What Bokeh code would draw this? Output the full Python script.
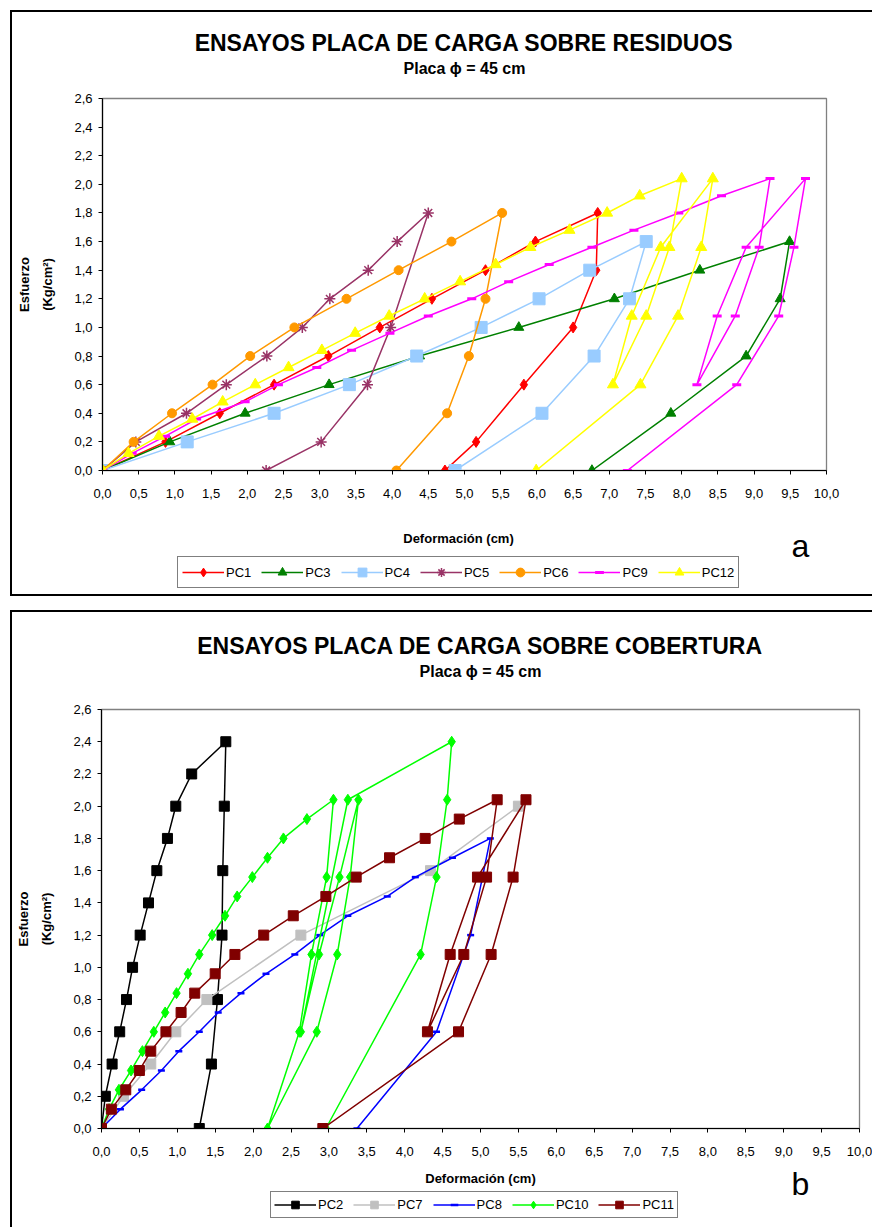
from bokeh.plotting import figure
from bokeh.models import Range1d, FixedTicker, Legend, LegendItem, LinearAxis, Label
from bokeh.layouts import column
from bokeh.embed import file_html
from bokeh.resources import INLINE

FONT = "Liberation Sans"

# ---------------- data ----------------
x_ticks = [0.0, 0.5, 1.0, 1.5, 2.0, 2.5, 3.0, 3.5, 4.0, 4.5, 5.0,
           5.5, 6.0, 6.5, 7.0, 7.5, 8.0, 8.5, 9.0, 9.5, 10.0]
x_tick_labels = ["0,0", "0,5", "1,0", "1,5", "2,0", "2,5", "3,0", "3,5", "4,0", "4,5", "5,0",
                 "5,5", "6,0", "6,5", "7,0", "7,5", "8,0", "8,5", "9,0", "9,5", "10,0"]
y_ticks = [0.0, 0.2, 0.4, 0.6, 0.8, 1.0, 1.2, 1.4, 1.6, 1.8, 2.0, 2.2, 2.4, 2.6]
y_tick_labels = ["0,0", "0,2", "0,4", "0,6", "0,8", "1,0", "1,2", "1,4", "1,6", "1,8",
                 "2,0", "2,2", "2,4", "2,6"]

# Chart a: residuos
pc1_x = [0, 0.87, 1.62, 2.37, 3.12, 3.83, 4.55, 5.29, 5.98, 6.84, 6.82, 6.50, 5.82, 5.16, 4.73]
pc1_y = [0, 0.2, 0.4, 0.6, 0.8, 1.0, 1.2, 1.4, 1.6, 1.8, 1.4, 1.0, 0.6, 0.2, 0.0]

pc3_x = [0, 0.93, 1.97, 3.13, 4.38, 5.75, 7.07, 8.25, 9.49, 9.36, 8.89, 7.85, 6.76]
pc3_y = [0, 0.2, 0.4, 0.6, 0.8, 1.0, 1.2, 1.4, 1.6, 1.2, 0.8, 0.4, 0.0]

pc4_x = [0, 1.17, 2.37, 3.41, 4.34, 5.23, 6.03, 6.73, 7.51, 7.28, 6.79, 6.07, 4.87]
pc4_y = [0, 0.2, 0.4, 0.6, 0.8, 1.0, 1.2, 1.4, 1.6, 1.2, 0.8, 0.4, 0.0]

pc5_x = [0, 0.46, 1.16, 1.71, 2.27, 2.76, 3.14, 3.67, 4.07, 4.50, 3.98, 3.66, 3.02, 2.26]
pc5_y = [0, 0.2, 0.4, 0.6, 0.8, 1.0, 1.2, 1.4, 1.6, 1.8, 1.0, 0.6, 0.2, 0.0]

pc6_x = [0, 0.43, 0.96, 1.52, 2.04, 2.65, 3.37, 4.09, 4.82, 5.52, 5.29, 5.06, 4.76, 4.06]
pc6_y = [0, 0.2, 0.4, 0.6, 0.8, 1.0, 1.2, 1.4, 1.6, 1.8, 1.2, 0.8, 0.4, 0.0]

pc9_x = [0, 0.41, 0.87, 1.30, 1.97, 2.43, 2.96, 3.44, 3.97, 4.50, 5.10, 5.61, 6.17, 6.76,
         7.34, 7.96, 8.55, 9.22, 9.07, 8.74, 8.21, 8.49, 8.89, 9.71, 9.55, 9.34, 8.76, 7.25]
pc9_y = [0, 0.12, 0.24, 0.36, 0.48, 0.60, 0.72, 0.84, 0.96, 1.08, 1.20, 1.32, 1.44, 1.56,
         1.68, 1.80, 1.92, 2.04, 1.56, 1.08, 0.60, 1.08, 1.56, 2.04, 1.56, 1.08, 0.60, 0.0]

pc12_x = [0, 0.36, 0.78, 1.24, 1.66, 2.11, 2.57, 3.03, 3.49, 3.96, 4.45, 4.94, 5.43, 5.91,
          6.45, 6.97, 7.42, 8.00, 7.83, 7.51, 7.05, 7.31, 7.71, 8.43, 8.27, 7.95, 7.43, 5.99]
pc12_y = [0, 0.12, 0.24, 0.36, 0.48, 0.60, 0.72, 0.84, 0.96, 1.08, 1.20, 1.32, 1.44, 1.56,
          1.68, 1.80, 1.92, 2.04, 1.56, 1.08, 0.60, 1.08, 1.56, 2.04, 1.56, 1.08, 0.60, 0.0]

# Chart b: cobertura
pc2_x = [0, 0.05, 0.14, 0.24, 0.33, 0.41, 0.51, 0.62, 0.73, 0.87, 0.98, 1.19, 1.64,
         1.62, 1.60, 1.59, 1.53, 1.45, 1.29]
pc2_y = [0, 0.2, 0.4, 0.6, 0.8, 1.0, 1.2, 1.4, 1.6, 1.8, 2.0, 2.2, 2.4,
         2.0, 1.6, 1.2, 0.8, 0.4, 0.0]

pc7_x = [0, 0.29, 0.65, 0.98, 1.39, 2.63, 4.34, 5.50]
pc7_y = [0, 0.2, 0.4, 0.6, 0.8, 1.2, 1.6, 2.0]

pc8_x = [0, 0.25, 0.53, 0.79, 1.02, 1.29, 1.54, 1.84, 2.17, 2.55, 2.88, 3.25, 3.77, 4.14,
         4.63, 5.13, 4.87, 4.42, 3.37]
pc8_y = [0, 0.12, 0.24, 0.36, 0.48, 0.60, 0.72, 0.84, 0.96, 1.08, 1.20, 1.32, 1.44, 1.56,
         1.68, 1.80, 1.20, 0.60, 0.0]

pc10_x = [0, 0.10, 0.23, 0.39, 0.54, 0.69, 0.84, 0.99, 1.14, 1.29, 1.46, 1.63, 1.79, 1.99,
          2.19, 2.40, 2.71, 3.06, 2.97, 2.77, 2.61, 2.19, 2.84, 3.11, 3.28, 3.39, 3.14, 2.87,
          2.63, 3.25, 4.62, 4.56, 4.42, 4.21, 2.96]
pc10_y = [0, 0.12, 0.24, 0.36, 0.48, 0.60, 0.72, 0.84, 0.96, 1.08, 1.20, 1.32, 1.44, 1.56,
          1.68, 1.80, 1.92, 2.04, 1.56, 1.08, 0.60, 0.0, 0.60, 1.08, 1.56, 2.04, 1.56, 1.08,
          0.60, 2.04, 2.40, 2.04, 1.56, 1.08, 0.0]

pc11_x = [0, 0.13, 0.32, 0.50, 0.65, 0.85, 1.05, 1.23, 1.50, 1.76, 2.14, 2.53, 2.96, 3.36,
          3.80, 4.27, 4.72, 5.22, 5.08, 4.78, 4.30, 4.60, 4.96, 5.60, 5.43, 5.14, 4.71, 2.92]
pc11_y = [0, 0.12, 0.24, 0.36, 0.48, 0.60, 0.72, 0.84, 0.96, 1.08, 1.20, 1.32, 1.44, 1.56,
          1.68, 1.80, 1.92, 2.04, 1.56, 1.08, 0.60, 1.08, 1.56, 2.04, 1.56, 1.08, 0.60, 0.0]

series_a = [
    ("PC1", pc1_x, pc1_y, "#FF0000", "diamond", 11, 1),
    ("PC3", pc3_x, pc3_y, "#008000", "triangle", 10, 1),
    ("PC4", pc4_x, pc4_y, "#99CCFF", "square", 12, 1),
    ("PC5", pc5_x, pc5_y, "#993366", "asterisk", 11, 1.5),
    ("PC6", pc6_x, pc6_y, "#FF9900", "circle", 9, 1),
    ("PC9", pc9_x, pc9_y, "#FF00FF", "dash", 9, 3),
    ("PC12", pc12_x, pc12_y, "#FFFF00", "triangle", 11, 1),
]
series_b = [
    ("PC2", pc2_x, pc2_y, "#000000", "square", 10, 1),
    ("PC7", pc7_x, pc7_y, "#C0C0C0", "square", 10, 1),
    ("PC8", pc8_x, pc8_y, "#0000FF", "dash", 7, 2.5),
    ("PC10", pc10_x, pc10_y, "#00FF00", "diamond", 11, 1),
    ("PC11", pc11_x, pc11_y, "#800000", "square", 10, 1),
]


def blank_axis(label, standoff, size, bold=True):
    return LinearAxis(ticker=FixedTicker(ticks=[]), axis_line_color=None,
                      major_tick_line_color=None, minor_tick_line_color=None,
                      major_tick_out=0, major_tick_in=0, minor_tick_out=0, minor_tick_in=0,
                      axis_label=label, axis_label_standoff=standoff,
                      axis_label_text_font=FONT, axis_label_text_font_size=size,
                      axis_label_text_font_style="bold" if bold else "normal",
                      axis_label_text_color="black")


def box_css(lines):
    # black lines of the chart's outer box, drawn as CSS backgrounds of the figure element
    return {"background-image": ", ".join(["linear-gradient(#000,#000)"] * len(lines)),
            "background-size": ", ".join(f"{w}px {h}px" for (_, _, w, h) in lines),
            "background-position": ", ".join(f"{x}px {y}px" for (x, y, _, _) in lines),
            "background-repeat": "no-repeat"}


def make_chart(title, series, height, borders, cfg, lines):
    bl, br, bt, bb = borders
    p = figure(width=872, height=height, output_backend="svg", toolbar_location=None,
               title=None, x_range=Range1d(0, 10.0), y_range=Range1d(0, 2.6),
               min_border_left=bl, min_border_right=br, min_border_top=bt,
               min_border_bottom=bb)
    p.border_fill_color = None
    p.background_fill_color = "white"
    p.outline_line_color = "#808080"
    p.outline_line_width = 1.3
    p.grid.visible = False
    p.styles = box_css(lines)

    for ax, ticks, labels in ((p.xaxis[0], x_ticks, x_tick_labels),
                              (p.yaxis[0], y_ticks, y_tick_labels)):
        ax.ticker = FixedTicker(ticks=ticks)
        ax.major_label_overrides = {t: l for t, l in zip(ticks, labels)}
        ax.axis_line_color = "black"
        ax.axis_line_width = 1.2
        ax.major_tick_line_color = "black"
        ax.major_tick_out = 4
        ax.major_tick_in = 0
        ax.minor_tick_line_color = None
        ax.major_label_text_font = FONT
        ax.major_label_text_font_size = "13px"
        ax.major_label_text_color = "black"
        ax.axis_label_text_font = FONT
        ax.axis_label_text_font_size = "13px"
        ax.axis_label_text_font_style = "bold"
        ax.axis_label_text_color = "black"
    xa, ya = p.xaxis[0], p.yaxis[0]
    xa.major_label_standoff = 14
    ya.major_label_standoff = 6
    ya.axis_label = "(Kg/cm²)"
    ya.axis_label_standoff = 16

    p.add_layout(blank_axis("Esfuerzo", 6, "13px"), "left")
    p.add_layout(blank_axis("Placa ϕ = 45 cm", cfg["sub_standoff"], "16px"), "above")
    p.add_layout(blank_axis(title, cfg["title_standoff"], "23px"), "above")

    for name, xs, ys, color, marker, size, lw in series:
        p.line(xs, ys, line_color=color, line_width=1.5)
        p.scatter(xs, ys, marker=marker, size=size, fill_color=color,
                  line_color=color, line_width=lw)
    return p


def make_footer(series, height, borders, cfg, letter, lines):
    """Strip under a chart holding the x-axis title, the panel letter and the legend."""
    bl, br = borders
    # ranges far from the data: the series drawn here stay out of view and only
    # provide the legend keys
    f = figure(width=872, height=height, output_backend="svg", toolbar_location=None,
               title=None, x_axis_location=None, y_axis_location=None,
               x_range=Range1d(50, 51), y_range=Range1d(50, 51),
               min_border_left=bl, min_border_right=br, min_border_top=0,
               min_border_bottom=0)
    f.border_fill_color = None
    f.background_fill_color = None
    f.outline_line_color = None
    f.grid.visible = False
    f.styles = box_css(lines)

    items = []
    for name, xs, ys, color, marker, size, lw in series:
        r1 = f.line(xs, ys, line_color=color, line_width=1.5)
        r2 = f.scatter(xs, ys, marker=marker, size=size, fill_color=color,
                       line_color=color, line_width=lw)
        items.append(LegendItem(label=name, renderers=[r1, r2]))
    f.add_layout(Legend(items=items, location=cfg["leg_loc"], orientation="horizontal",
                        glyph_width=42, glyph_height=cfg["glyph_h"], label_standoff=2,
                        spacing=10, padding=cfg["pad"], margin=0,
                        border_line_color="black", border_line_width=1,
                        background_fill_color="white", background_fill_alpha=1,
                        label_text_font=FONT, label_text_font_size="13px",
                        label_text_color="black"), "center")

    dx, dy = cfg["xlab"]
    f.add_layout(Label(x=dx, y=dy, x_units="screen", y_units="screen", text="Deformación (cm)",
                       text_font=FONT, text_font_style="bold", text_font_size="13px",
                       text_color="black", text_align="center", text_baseline="middle"))
    lx, ly = cfg["letter"]
    f.add_layout(Label(x=lx, y=ly, x_units="screen", y_units="screen", text=letter,
                       text_font=FONT, text_font_size="32px", text_color="black",
                       text_align="center", text_baseline="middle"))
    return f


# footer frames share the chart frames' left/right borders; positions in the
# footers are measured from that frame's left edge
p1 = make_chart("ENSAYOS PLACA DE CARGA SOBRE RESIDUOS", series_a, 520,
                (102, 46, 98, 50), dict(sub_standoff=22, title_standoff=1),
                [(10, 10, 2, 510), (10, 10, 862, 2)])
f1 = make_footer(series_a, 76, (102, 46), dict(leg_loc=(75, 8), glyph_h=22, pad=4,
                                               xlab=(356, 58), letter=(698, 51)),
                 "a", [(10, 0, 2, 76), (10, 74, 862, 2)])
p2 = make_chart("ENSAYOS PLACA DE CARGA SOBRE COBERTURA", series_b, 566,
                (101, 13, 113, 34), dict(sub_standoff=30, title_standoff=1),
                [(10, 14, 2, 552), (10, 14, 862, 2)])
f2 = make_footer(series_b, 65, (101, 13), dict(leg_loc=(169, 9), glyph_h=19, pad=3,
                                               xlab=(379, 49), letter=(699, 44)),
                 "b", [(10, 0, 2, 65)])

layout = column(column(p1, f1), column(p2, f2))
open("out.html", "w").write(file_html(layout, INLINE))
